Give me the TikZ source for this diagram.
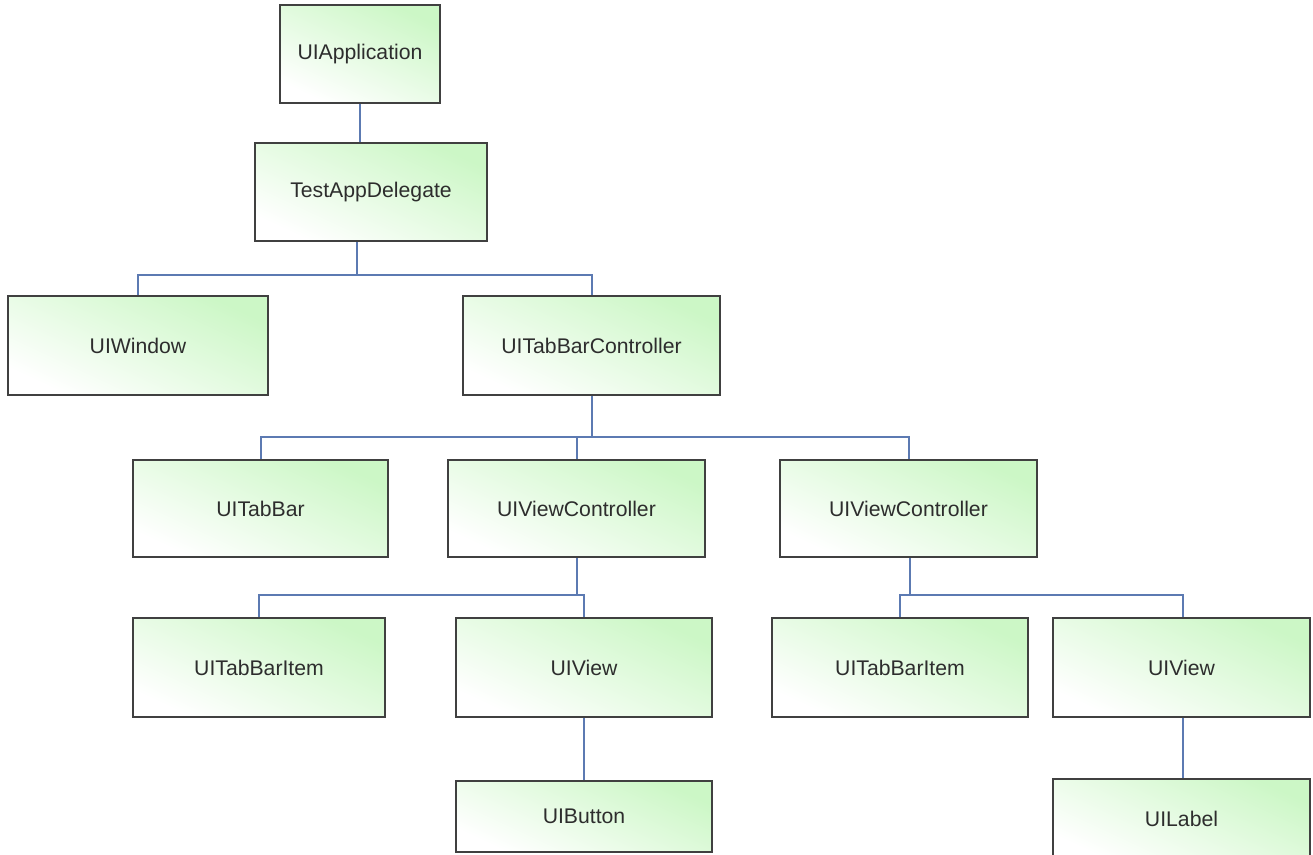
\documentclass[tikz,border=0pt]{standalone}
\usepackage{fontspec}
\setmainfont{Liberation Sans}
\usepackage{tikz}

\definecolor{boxgreen}{RGB}{204,247,198}
\definecolor{boxpale}{RGB}{240,252,238}
\definecolor{boxline}{RGB}{64,64,64}
\definecolor{linkblue}{RGB}{92,122,178}
\definecolor{textgray}{RGB}{45,45,45}

\tikzset{
  classbox/.style={draw=boxline, line width=1.5pt, rectangle, inner sep=0pt,
    shading=axis, top color=boxgreen, middle color=boxpale, bottom color=white, shading angle=-25,
    text=textgray, font=\fontsize{15.9}{19}\selectfont},
  link/.style={draw=linkblue, line width=1.1pt}
}

\begin{document}
\begin{tikzpicture}[x=0.75pt,y=0.75pt,yscale=-1,xscale=1]
        \clip (0,0) rectangle (1313,854);

        % Class Boxes
        \node [classbox, minimum width=120pt, minimum height=73.5pt] (app) at (360,54) {UIApplication};
        \node [classbox, minimum width=174pt, minimum height=73.5pt] (tad) at (371,192) {TestAppDelegate};
        \node [classbox, minimum width=195pt, minimum height=74pt] (win) at (138,345.5) {UIWindow};
        \node [classbox, minimum width=193pt, minimum height=74pt] (tbc) at (591.5,345.5) {UITabBarController};
        \node [classbox, minimum width=191pt, minimum height=73pt] (tbar) at (260.5,508.5) {UITabBar};
        \node [classbox, minimum width=193pt, minimum height=73pt] (vcA) at (576.5,508.5) {UIViewController};
        \node [classbox, minimum width=193pt, minimum height=73pt] (vcB) at (908.5,508.5) {UIViewController};
        \node [classbox, minimum width=189pt, minimum height=74pt] (itemA) at (259,667.5) {UITabBarItem};
        \node [classbox, minimum width=192pt, minimum height=74pt] (viewA) at (584,667.5) {UIView};
        \node [classbox, minimum width=192pt, minimum height=74pt] (itemB) at (900,667.5) {UITabBarItem};
        \node [classbox, minimum width=193pt, minimum height=74pt] (viewB) at (1181.5,667.5) {UIView};
        \node [classbox, minimum width=192pt, minimum height=53pt] (button) at (584,816.5) {UIButton};
        \node [classbox, minimum width=193pt, minimum height=60pt] (label) at (1181.5,819) {UILabel};

        % Bus points
        \coordinate (busTad) at (357,275);
        \coordinate (busTbc) at (592,437);
        \coordinate (busVcA) at (577,595);
        \coordinate (busVcB) at (910,595);
        \coordinate (dropTbc) at (592,0);
        \coordinate (dropTbar) at (261,0);
        \coordinate (dropVcB) at (909,0);
        \coordinate (dropB) at (1183,0);

        % Connectors
        \draw [link] (app.south) -- (app.south |- tad.north);
        \draw [link] (tad.south -| busTad) -- (busTad);
        \draw [link] (busTad) -| (win.north);
        \draw [link] (busTad) -| (tbc.north -| dropTbc);
        \draw [link] (tbc.south -| busTbc) -- (busTbc);
        \draw [link] (busTbc) -| (tbar.north -| dropTbar);
        \draw [link] (busTbc) -| (vcA.north -| busVcA);
        \draw [link] (busTbc) -| (vcB.north -| dropVcB);
        \draw [link] (vcA.south -| busVcA) -- (busVcA);
        \draw [link] (busVcA) -| (itemA.north);
        \draw [link] (busVcA) -| (viewA.north);
        \draw [link] (vcB.south -| busVcB) -- (busVcB);
        \draw [link] (busVcB) -| (itemB.north);
        \draw [link] (busVcB) -| (viewB.north -| dropB);
        \draw [link] (viewA.south) -- (button.north);
        \draw [link] (viewB.south -| dropB) -- (label.north -| dropB);

\end{tikzpicture}
\end{document}
